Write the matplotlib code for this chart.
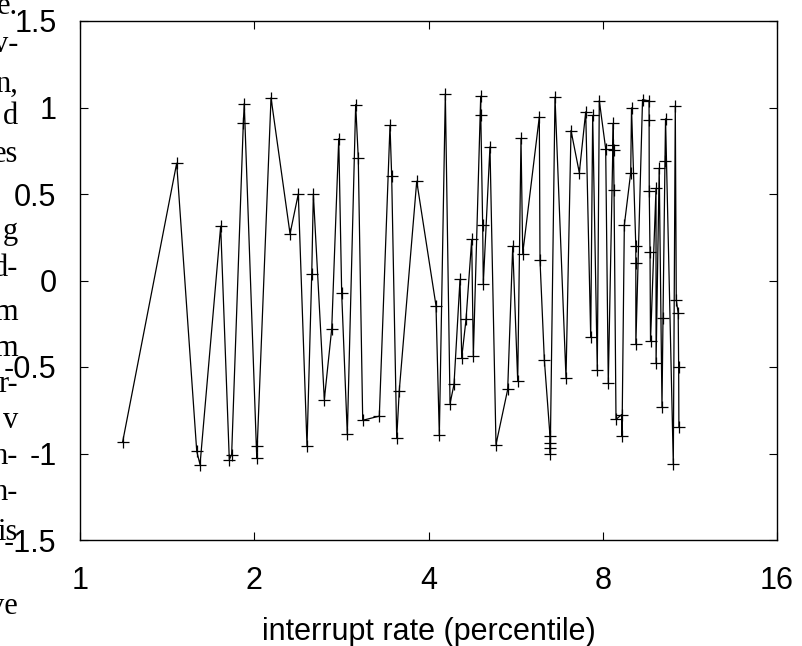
import matplotlib
matplotlib.use("Agg")
import matplotlib.pyplot as plt
from matplotlib.ticker import FixedLocator, NullLocator, FixedFormatter

# interrupt rate (percentile) vs. value
rate = [1.185, 1.469, 1.591, 1.612, 1.750, 1.811, 1.828, 1.915, 1.922, 2.020,
        2.024, 2.138, 2.306, 2.383, 2.467, 2.514, 2.530, 2.643, 2.722, 2.799,
        2.832, 2.896, 2.994, 3.025, 3.079, 3.289, 3.432, 3.455, 3.525, 3.561,
        3.817, 4.121, 4.176, 4.277, 4.358, 4.427, 4.534, 4.565, 4.644, 4.750,
        4.781, 4.923, 4.925, 4.962, 4.974, 5.108, 5.232, 5.481, 5.592, 5.704,
        5.779, 5.819, 6.216, 6.233, 6.341, 6.486, 6.488, 6.490, 6.492, 6.616,
        6.912, 7.051, 7.288, 7.476, 7.626, 7.686, 7.828, 7.891, 8.094, 8.178,
        8.343, 8.345, 8.350, 8.367, 8.433, 8.627, 8.637, 8.717, 8.941, 8.970,
        9.124, 9.125, 9.126, 9.372, 9.617, 9.620, 9.625, 9.655, 9.674, 9.888,
        9.890, 10.014, 10.126, 10.167, 10.247, 10.270, 10.592, 10.676, 10.718,
        10.800, 10.820, 10.830]
value = [-0.932, 0.678, -0.987, -1.064, 0.314, -1.035, -1.006, 0.911, 1.023, -1.025,
         -0.958, 1.056, 0.270, 0.500, -0.958, 0.040, 0.500, -0.688, -0.279, 0.820,
         -0.075, -0.890, 1.017, 0.709, -0.808, -0.784, 0.896, 0.603, -0.913, -0.636,
         0.574, -0.145, -0.894, 1.079, -0.711, -0.601, 0.006, -0.447, -0.225, 0.237,
         -0.434, 1.065, 0.954, 0.318, -0.019, 0.773, -0.948, -0.630, 0.198, -0.582,
         0.821, 0.156, 0.946, 0.116, -0.457, -0.900, -0.940, -0.970, -1.000, 1.060,
         -0.563, 0.867, 0.623, 0.975, -0.328, 0.954, -0.518, 1.040, 0.761, -0.592,
         0.908, 0.786, 0.757, 0.522, -0.803, -0.775, -0.898, 0.320, 0.623, 0.998,
         0.200, 0.100, -0.368, 1.046, 1.037, 0.925, 0.518, 0.162, -0.351, 0.533,
         -0.478, 0.649, -0.732, -0.216, 0.690, 0.935, -1.062, 1.010, -0.112,
         -0.190, -0.498, -0.845]

xticks = [1, 2, 4, 8, 16]
xtick_labels = ["1", "2", "4", "8", "16"]
yticks = [-1.5, -1.0, -0.5, 0.0, 0.5, 1.0, 1.5]
ytick_labels = ["-1.5", "-1", "-0.5", "0", "0.5", "1", "1.5"]

# bits of the page text that sit to the left of the figure
side_words = ["e.", "v-", "n,", "d", "es", "g", "d-", "m", "m", "r-", "v", "n-", "n-", "is", "ve"]
side_rows = [6, 44, 84, 116, 154, 232, 268, 312, 348, 385, 420, 456, 493, 533, 606]

W, H = 802, 646
fig = plt.figure(figsize=(W / 100, H / 100), dpi=100)
ax = fig.add_axes([80 / W, (H - 540) / H, 697 / W, 519 / H])

ax.plot(rate, value, color="black", lw=0.9, marker="+", ms=8, mew=0.9)

ax.set_xscale("log", base=2)
ax.set_xlim(1, 16)
ax.set_ylim(-1.5, 1.5)
ax.xaxis.set_major_locator(FixedLocator(xticks))
ax.xaxis.set_major_formatter(FixedFormatter(xtick_labels))
ax.xaxis.set_minor_locator(NullLocator())
ax.yaxis.set_major_locator(FixedLocator(yticks))
ax.yaxis.set_major_formatter(FixedFormatter(ytick_labels))

ax.tick_params(direction="in", length=6, width=0.8, top=True, right=True,
               labelsize=22, labelfontfamily="Liberation Sans")
ax.tick_params(axis="x", pad=19)
ax.tick_params(axis="y", pad=17)
for sp in ax.spines.values():
    sp.set_linewidth(1.0)

ax.set_xlabel("interrupt rate (percentile)", fontsize=22,
              fontfamily="Liberation Sans", labelpad=15)

for word, row in zip(side_words, side_rows):
    fig.text(18 / W, 1 - row / H, word, ha="right", va="center",
             fontsize=22, fontfamily="Liberation Serif")

fig.savefig("out.png", dpi=100)
